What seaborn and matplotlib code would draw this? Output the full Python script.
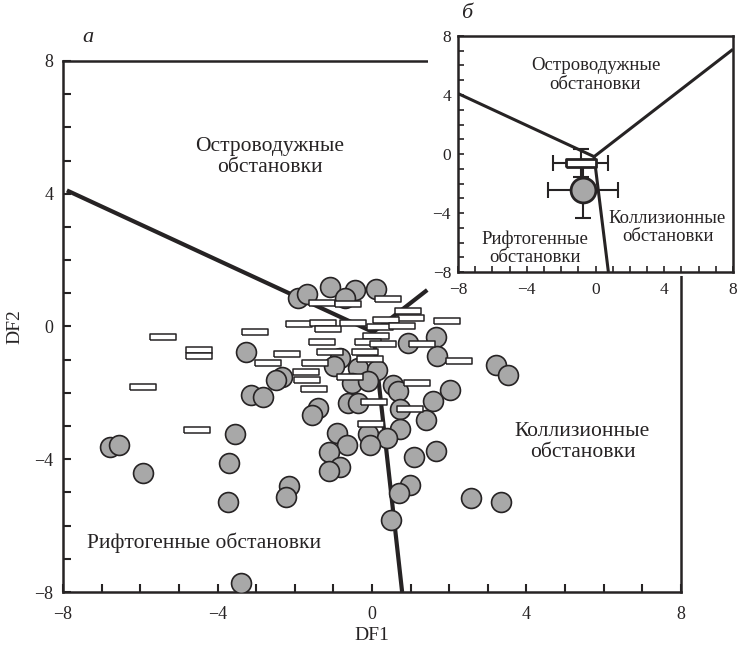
import numpy as np
import pandas as pd
import matplotlib
matplotlib.use("Agg")
import matplotlib.pyplot as plt
from matplotlib.patches import Rectangle
import seaborn as sns

# --- Sample scores on the discriminant functions -------------------------
circle_df1 = [-1.92, -1.69, -1.09, -0.44, 0.10, -0.70, -3.25, -0.83, -0.99, -0.36,
              0.13, -0.52, -0.10, 0.55, 0.68, 0.94, 1.66, 1.69, 3.22, 3.53,
              2.03, -2.34, -2.49, -3.12, -2.81, -0.62, -0.36, -1.40, -1.56, 0.73,
              1.58, 1.40, 0.73, -3.56, -0.91, -0.10, 0.39, -0.65, -0.05, -1.12,
              -0.83, -1.12, 1.09, 1.66, -6.78, -6.55, -5.92, -3.71, -3.74, -2.16,
              -2.23, 0.99, 0.70, 0.49, 2.57, 3.35, -3.38]
circle_df2 = [0.86, 0.98, 1.19, 1.10, 1.13, 0.86, -0.77, -0.95, -1.19, -1.25,
              -1.31, -1.70, -1.64, -1.76, -1.94, -0.50, -0.32, -0.89, -1.16, -1.46,
              -1.91, -1.52, -1.61, -2.06, -2.12, -2.30, -2.30, -2.45, -2.67, -2.48,
              -2.24, -2.82, -3.09, -3.24, -3.21, -3.24, -3.36, -3.57, -3.57, -3.78,
              -4.23, -4.35, -3.93, -3.75, -3.63, -3.57, -4.41, -4.11, -5.29, -4.80,
              -5.14, -4.77, -5.02, -5.83, -5.17, -5.29, -7.73]

rect_df1 = [-5.40, -4.47, -4.47, -5.92, -4.52, -3.04, -2.70, -2.21, -1.90, -1.30,
            -0.62, -1.27, -1.14, -0.49, -1.30, -1.09, -1.48, -1.71, -1.69, -1.51,
            -0.57, 0.42, 0.94, 1.01, 0.36, 0.21, 0.78, 1.95, 0.10, -0.10,
            0.29, 1.30, -0.18, -0.05, 2.26, 1.17, 0.05, 0.99, -0.03]
rect_df2 = [-0.32, -0.71, -0.89, -1.82, -3.12, -0.17, -1.10, -0.83, 0.08, 0.71,
            0.68, 0.11, -0.08, 0.11, -0.47, -0.77, -1.10, -1.37, -1.61, -1.88,
            -1.52, 0.83, 0.47, 0.26, 0.20, -0.02, 0.02, 0.17, -0.29, -0.47,
            -0.53, -0.53, -0.77, -0.98, -1.04, -1.70, -2.27, -2.48, -2.94]

# --- Field boundaries (DF1, DF2) ----------------------------------------
junction = (0.03, -0.17)
arc_rift_main = ([-7.9, junction[0]], [4.1, junction[1]])
arc_coll_main = ([junction[0], 1.43], [junction[1], 1.10])
rift_coll_main = ([junction[0], 0.78], [junction[1], -8.0])

junction_inset = (-0.08, -0.18)
arc_rift_inset = ([-8.0, junction_inset[0]], [4.1, junction_inset[1]])
arc_coll_inset = ([junction_inset[0], 8.0], [junction_inset[1], 7.1])
rift_coll_inset = ([junction_inset[0], 0.75], [junction_inset[1], -8.0])

# --- Group means with spread -------------------------------------------
mean_df1 = [-0.85, -0.72]
mean_df2 = [-0.61, -2.44]
mean_err1 = [1.6, 2.03]
mean_err2 = [0.93, 1.92]
mean_group = ["rect", "circle"]

axis_ticks = [-8, -4, 0, 4, 8]

# --- Styling -----------------------------------------------------------
sns.set_style("ticks")
plt.rcParams["font.family"] = ["Liberation Serif", "DejaVu Serif"]
plt.rcParams["axes.unicode_minus"] = True

ink = "#262324"
grey = "#a8a8a8"

fig = plt.figure(figsize=(7.37, 6.53), dpi=100)
ax = fig.add_axes([0.0855, 0.0934, 0.8385, 0.8132])
ax.set_zorder(0)

rect_marker = [(-1, -0.27), (1, -0.27), (1, 0.27), (-1, 0.27), (-1, -0.27)]

for xs, ys in (arc_rift_main, arc_coll_main, rift_coll_main):
    ax.plot(xs, ys, color=ink, lw=3.0, solid_capstyle="butt", zorder=1)

circles = pd.DataFrame({"DF1": circle_df1, "DF2": circle_df2})
rects = pd.DataFrame({"DF1": rect_df1, "DF2": rect_df2})

sns.scatterplot(data=circles, x="DF1", y="DF2", ax=ax, marker="o", s=205,
                color=grey, edgecolor=ink, linewidth=1.2, zorder=3, legend=False)
sns.scatterplot(data=rects, x="DF1", y="DF2", ax=ax, marker=rect_marker, s=340,
                color="white", edgecolor=ink, linewidth=1.1, zorder=4, legend=False)

ax.set_xlim(-8, 8)
ax.set_ylim(-8, 8)
ax.set_xticks(axis_ticks)
ax.set_yticks(axis_ticks)
ax.set_xticks(np.arange(-8, 9, 1), minor=True)
ax.set_yticks(np.arange(-8, 9, 1), minor=True)
ax.tick_params(which="both", direction="in", top=False, right=False,
               color=ink, width=1.5, labelsize=13, labelcolor=ink)
ax.tick_params(which="major", length=6)
ax.tick_params(which="minor", length=6)
ax.tick_params(axis="x", pad=10)
ax.tick_params(axis="y", pad=7)
for sp in ax.spines.values():
    sp.set_linewidth(1.8)
    sp.set_color(ink)
ax.set_xlabel("DF1", fontsize=14, color=ink, labelpad=3)
ax.set_ylabel("DF2", fontsize=14, color=ink, labelpad=8)

ax.text(-2.65, 5.1, "Островодужные\nобстановки", ha="center", va="center",
        fontsize=15.5, color=ink, linespacing=1.15)
ax.text(5.45, -3.48, "Коллизионные\nобстановки", ha="center", va="center",
        fontsize=15.5, color=ink, linespacing=1.15)
ax.text(-7.39, -6.53, "Рифтогенные обстановки", ha="left", va="center",
        fontsize=15.5, color=ink)

fig.text(88 / 737, 1 - 37 / 653, "а", fontsize=16, style="italic",
         color=ink, ha="center", va="center")
fig.text(467 / 737, 1 - 14 / 653, "б", fontsize=16, style="italic",
         color=ink, ha="center", va="center")

# white backing for the inset panel
fig.patches.append(Rectangle((428 / 737, 1 - 276 / 653), 1 - 428 / 737, 276 / 653,
                             transform=fig.transFigure, facecolor="white",
                             edgecolor="none", zorder=1))

# --- Inset: group means -------------------------------------------------
ins = fig.add_axes([458 / 737, 1 - 272 / 653, 275 / 737, 236 / 653])
ins.set_zorder(2)
ins.set_facecolor("white")

for xs, ys in (arc_rift_inset, arc_coll_inset, rift_coll_inset):
    ins.plot(xs, ys, color=ink, lw=2.2, solid_capstyle="butt", zorder=1)

ins.errorbar(mean_df1, mean_df2, xerr=mean_err1, yerr=mean_err2, fmt="none",
             ecolor=ink, elinewidth=1.5, capsize=6, capthick=1.5, zorder=2)

means = pd.DataFrame({"DF1": mean_df1, "DF2": mean_df2, "group": mean_group})
sns.scatterplot(data=means[means.group == "circle"], x="DF1", y="DF2", ax=ins,
                marker="o", s=320, color=grey, edgecolor=ink, linewidth=2.0,
                zorder=3, legend=False)
sns.scatterplot(data=means[means.group == "rect"], x="DF1", y="DF2", ax=ins,
                marker=[(-1, -0.24), (1, -0.24), (1, 0.24), (-1, 0.24), (-1, -0.24)],
                s=470, color="white", edgecolor=ink, linewidth=2.0, zorder=4,
                legend=False)

ins.set_xlim(-8, 8)
ins.set_ylim(-8, 8)
ins.set_xticks(axis_ticks)
ins.set_yticks(axis_ticks)
ins.set_xticks(np.arange(-8, 9, 1), minor=True)
ins.set_yticks(np.arange(-8, 9, 1), minor=True)
ins.tick_params(which="both", direction="in", top=False, right=False,
                color=ink, width=1.2, length=4, labelsize=12.5, labelcolor=ink)
ins.tick_params(axis="x", pad=7)
ins.tick_params(axis="y", pad=5)
for sp in ins.spines.values():
    sp.set_linewidth(1.8)
    sp.set_color(ink)
ins.set_xlabel("")
ins.set_ylabel("")

ins.text(0.0, 5.36, "Островодужные\nобстановки", ha="center", va="center",
         fontsize=13.5, color=ink, linespacing=1.1)
ins.text(4.19, -5.0, "Коллизионные\nобстановки", ha="center", va="center",
         fontsize=13.5, color=ink, linespacing=1.1)
ins.text(-3.53, -6.37, "Рифтогенные\nобстановки", ha="center", va="center",
         fontsize=13.5, color=ink, linespacing=1.1)

fig.savefig("out.png", dpi=100)
